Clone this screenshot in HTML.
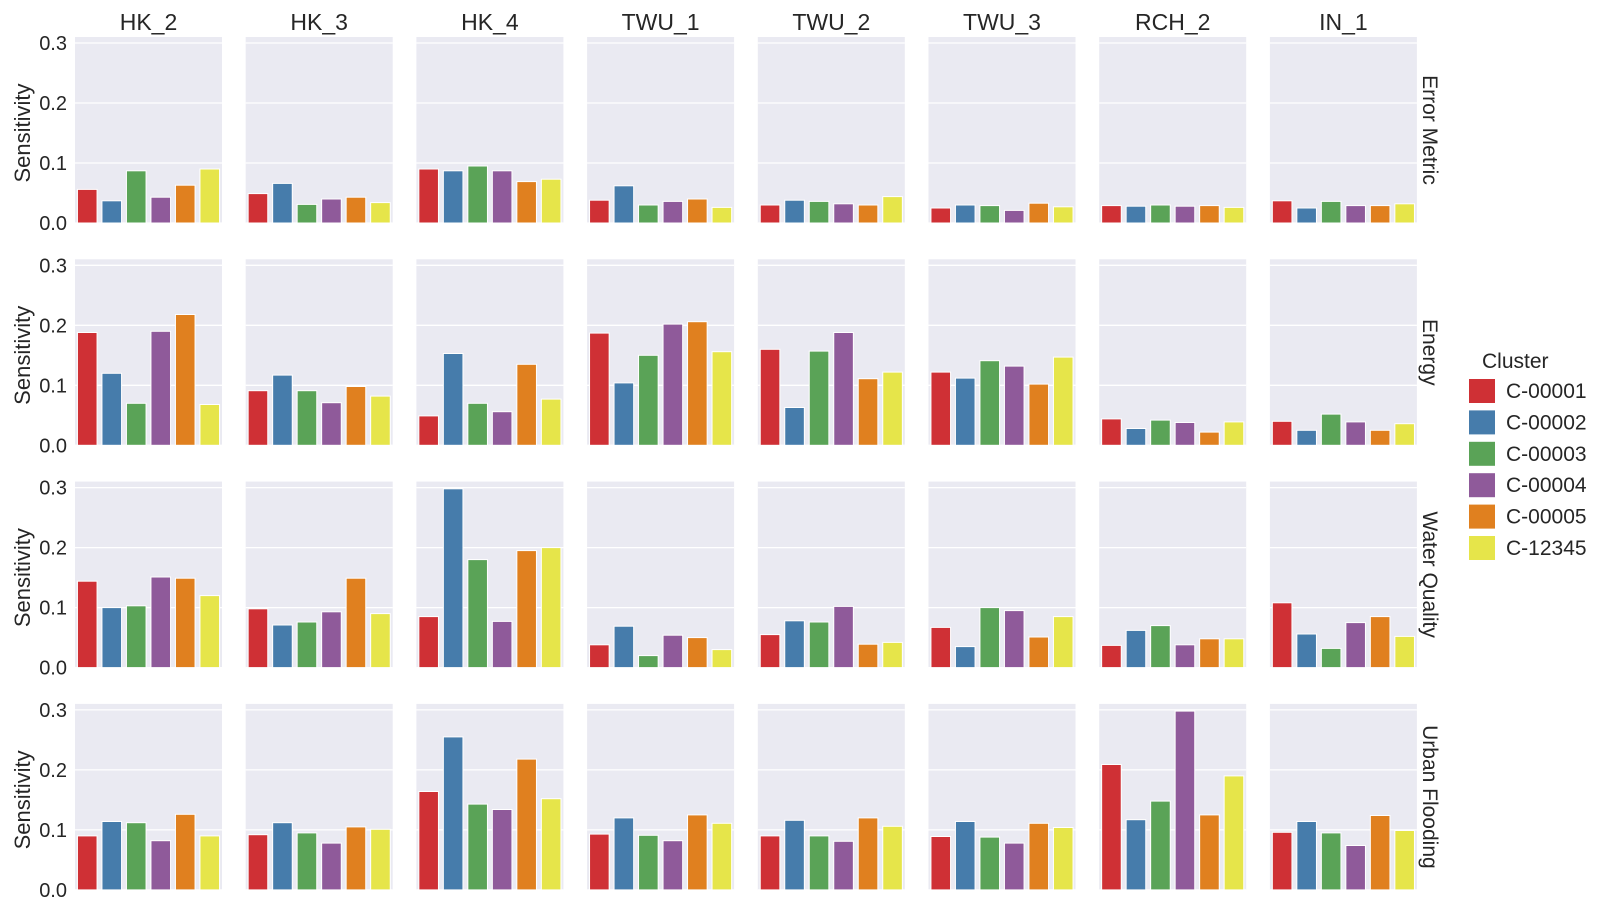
<!DOCTYPE html>
<html><head><meta charset="utf-8"><style>
html,body{margin:0;padding:0;background:#fff;}
svg{display:block;font-family:"Liberation Sans",Arial,sans-serif;}
</style></head><body>
<svg id="chart" width="1604" height="912" viewBox="0 0 1604 912" xmlns="http://www.w3.org/2000/svg"></svg>
<script>
const columns = ["HK_2","HK_3","HK_4","TWU_1","TWU_2","TWU_3","RCH_2","IN_1"];
const rowLabels = ["Error Metric","Energy","Water Quality","Urban Flooding"];
const clusters = ["C-00001","C-00002","C-00003","C-00004","C-00005","C-12345"];
const colors = ["#cf3035","#467cab","#5aa357","#8f5a9a","#e0801f","#e6e54a"];
const yTicks = [0.0,0.1,0.2,0.3];
const yTickLabels = ["0.0","0.1","0.2","0.3"];
const errorMetric = [
 [0.056,0.037,0.087,0.043,0.063,0.090],
 [0.049,0.066,0.031,0.040,0.043,0.034],
 [0.090,0.087,0.095,0.087,0.069,0.073],
 [0.038,0.062,0.030,0.036,0.040,0.026],
 [0.030,0.038,0.036,0.032,0.030,0.044],
 [0.025,0.030,0.029,0.021,0.033,0.027],
 [0.029,0.028,0.030,0.028,0.029,0.026],
 [0.037,0.025,0.036,0.029,0.029,0.032]];
const energy = [
 [0.188,0.120,0.070,0.190,0.218,0.068],
 [0.091,0.117,0.091,0.071,0.098,0.082],
 [0.049,0.153,0.070,0.056,0.135,0.077],
 [0.187,0.104,0.150,0.202,0.206,0.156],
 [0.160,0.063,0.157,0.188,0.111,0.122],
 [0.122,0.112,0.141,0.132,0.102,0.147],
 [0.044,0.028,0.042,0.038,0.022,0.039],
 [0.040,0.025,0.052,0.039,0.025,0.036]];
const waterQuality = [
 [0.144,0.100,0.103,0.151,0.149,0.120],
 [0.098,0.071,0.076,0.093,0.149,0.090],
 [0.085,0.298,0.180,0.077,0.195,0.200],
 [0.038,0.069,0.020,0.054,0.050,0.030],
 [0.055,0.078,0.076,0.102,0.039,0.042],
 [0.067,0.035,0.100,0.095,0.051,0.085],
 [0.037,0.062,0.070,0.038,0.048,0.048],
 [0.108,0.056,0.032,0.075,0.085,0.052]];
const urbanFlooding = [
 [0.090,0.114,0.112,0.082,0.126,0.090],
 [0.092,0.112,0.095,0.078,0.105,0.101],
 [0.164,0.255,0.143,0.134,0.218,0.152],
 [0.093,0.120,0.091,0.082,0.125,0.111],
 [0.090,0.116,0.090,0.081,0.120,0.106],
 [0.089,0.114,0.088,0.078,0.111,0.104],
 [0.209,0.117,0.148,0.298,0.125,0.190],
 [0.096,0.114,0.095,0.074,0.124,0.099]];
const rowData = [errorMetric, energy, waterQuality, urbanFlooding];

const NS="http://www.w3.org/2000/svg";
const svg=document.getElementById('chart');
function mk(tag,attrs,parent){const e=document.createElementNS(NS,tag);for(const k in attrs)e.setAttribute(k,attrs[k]);(parent||svg).appendChild(e);return e;}
const panelLeft0=75, panelPitch=170.7, panelW=147;
const base0=223, rowPitch=222.3, pxPerUnit=600, yMax=0.31;
function xPos(ci,i){return panelLeft0+ci*panelPitch+(i+0.5)*panelW/clusters.length;}
function yPos(ri,v){return base0+ri*rowPitch-v*pxPerUnit;}

for(let ri=0;ri<rowLabels.length;ri++){
  for(let ci=0;ci<columns.length;ci++){
    const g=mk('g',{});
    
    
    const x0=panelLeft0+ci*panelPitch;
    const top=yPos(ri,yMax), bot=yPos(ri,0);
    const bg=mk('rect',{x:x0,y:top,width:panelW,height:bot-top,fill:'#eaeaf2'},g);
    
    
    yTicks.forEach((t)=>{
      const gl=mk('line',{x1:x0,x2:x0+panelW,y1:yPos(ri,t),y2:yPos(ri,t),stroke:'#fff','stroke-width':1.3},g);
      
      
    });
    const bw=panelW/clusters.length*0.8;
    rowData[ri][ci].forEach((v,i)=>{
      const b=mk('rect',{x:xPos(ci,i)-bw/2,y:yPos(ri,v),width:bw,height:v*pxPerUnit,fill:colors[i],stroke:'#fff','stroke-width':1},g);
      
      
    });
    if(ci===0){
      yTicks.forEach((t,k)=>{
        const tl=mk('text',{x:67,y:yPos(ri,t)+7,'text-anchor':'end','font-size':20,fill:'#262626'},svg);
        tl.textContent=yTickLabels[k];
        
        
      });
      const cy=yPos(ri,0.15);
      const yl=mk('text',{x:0,y:0,transform:`translate(30,${cy}) rotate(-90)`,'text-anchor':'middle','font-size':22,fill:'#262626'},svg);
      yl.textContent='Sensitivity';
      
      
    }
    if(ri===0){
      const ct=mk('text',{x:x0+panelW/2,y:30,'text-anchor':'middle','font-size':23,fill:'#262626'},svg);
      ct.textContent=columns[ci];
      
      
    }
  }
  const cy=(yPos(ri,yMax)+yPos(ri,0))/2;
  const rl=mk('text',{x:0,y:0,transform:`translate(1423,${cy}) rotate(90)`,'text-anchor':'middle','font-size':21,fill:'#262626'},svg);
  rl.textContent=rowLabels[ri];
  
  
}
const lg=mk('g',{});


const lt=mk('text',{x:1482,y:368,'font-size':21,fill:'#262626'},lg);
lt.textContent='Cluster';


clusters.forEach((c,i)=>{
  const y=379+i*31.4;
  const sw=mk('rect',{x:1469,y:y,width:26,height:24,fill:colors[i]},lg);
  
  
  const t=mk('text',{x:1506,y:y+19,'font-size':21,fill:'#262626'},lg);
  t.textContent=c;
  
  
});
</script>
</body></html>
